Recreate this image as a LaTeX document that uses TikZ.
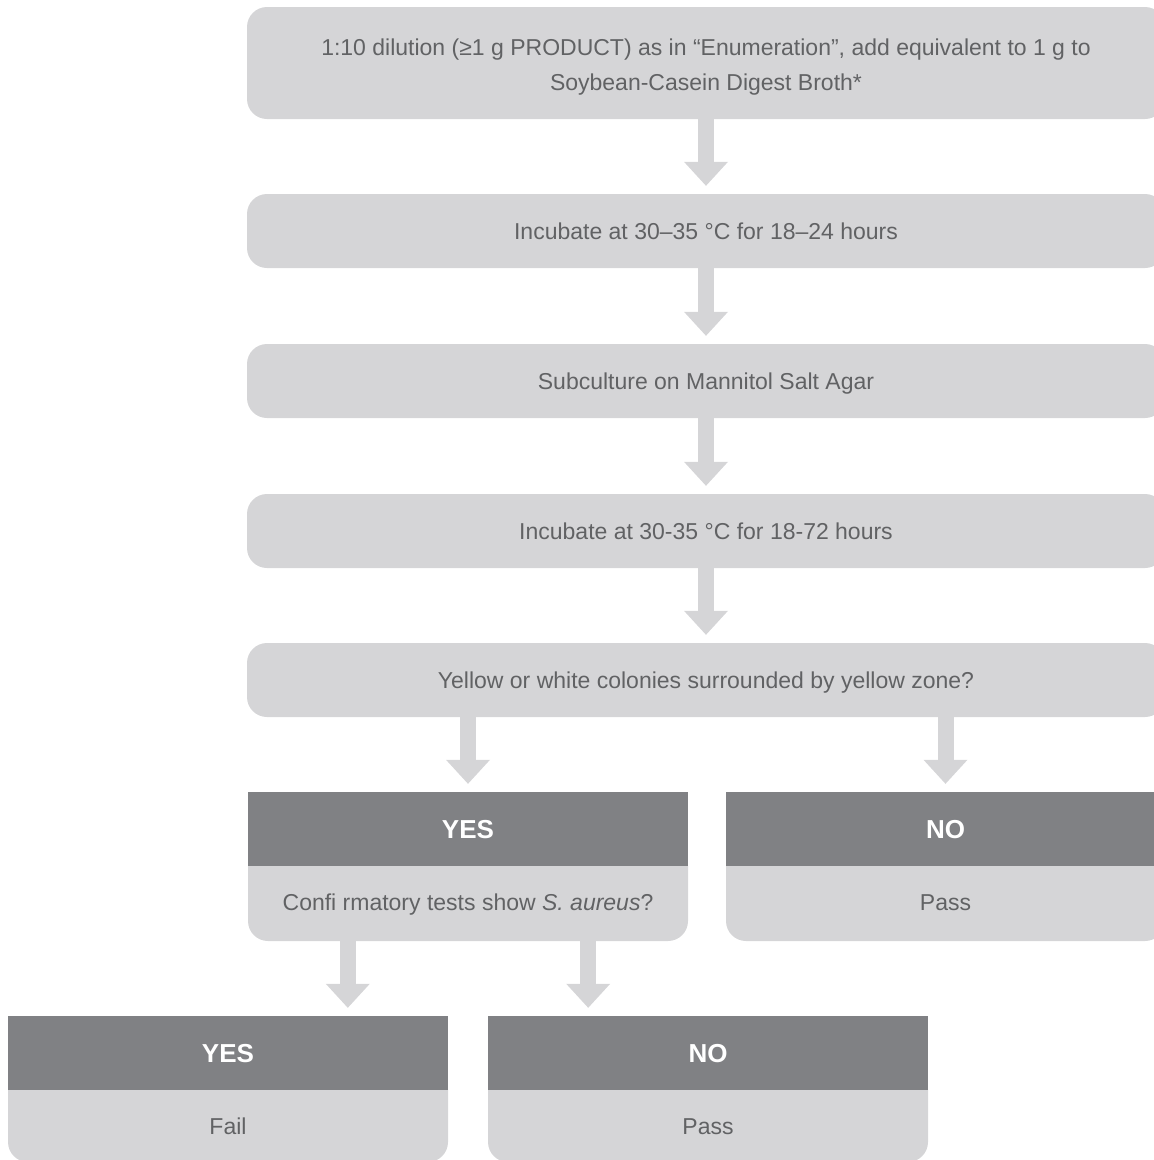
\documentclass[tikz,border=0pt]{standalone}
\usepackage{fontspec}
\setmainfont{Liberation Sans}
\usetikzlibrary{arrows.meta}
\definecolor{boxgray}{HTML}{D5D5D7}
\definecolor{headgray}{HTML}{808184}
\definecolor{txtgray}{HTML}{616264}
\definecolor{arrowgray}{HTML}{D5D5D7}
\tikzset{
  stepbox/.style={fill=boxgray, rounded corners=20pt, inner sep=0pt,
    minimum width=918pt, text=txtgray, align=center,
    font=\fontsize{23}{35}\selectfont},
  onel/.style={text height=21.5pt, text depth=5pt},
  headbox/.style={fill=headgray, inner sep=0pt, minimum width=440pt,
    minimum height=74pt, text=white, font=\bfseries\fontsize{26}{30}\selectfont,
    text height=24pt, text depth=5pt},
  bodybox/.style={fill=boxgray, rounded corners=20pt, inner sep=0pt,
    minimum width=440pt, text=txtgray, font=\fontsize{23}{30}\selectfont},
  flow/.style={draw=arrowgray, line width=16pt,
    -{Triangle[width=44pt,length=24pt,line width=0pt]}},
}
\begin{document}
\begin{tikzpicture}[x=1pt,y=-1pt]
\useasboundingbox (0,0) rectangle (1154,1160);
\clip (0,0) rectangle (1154,1160);
% main chain
\node[stepbox, minimum height=112pt] (b1) at (706,63)
  {\rule{0pt}{24pt}1:10 dilution (≥1 g PRODUCT) as in “Enumeration”, add equivalent to 1 g to\\Soybean-Casein Digest Broth*};
\node[stepbox, onel, minimum height=74pt] (b2) at (706,231) {Incubate at 30–35 °C for 18–24 hours};
\node[stepbox, onel, minimum height=74pt] (b3) at (706,381) {Subculture on Mannitol Salt Agar};
\node[stepbox, onel, minimum height=74pt] (b4) at (706,531) {Incubate at 30-35 °C for 18-72 hours};
\node[stepbox, onel, minimum height=74pt] (b5) at (706,680) {Yellow or white colonies surrounded by yellow zone?};
% first YES / NO
\node[bodybox, minimum height=95pt, text height=38.5pt, text depth=5pt] (yb) at (468,893.5)
  {Confi rmatory tests show \textit{S. aureus}?};
\node[headbox] (yh) at (468,829) {YES};
\node[bodybox, minimum width=439pt, minimum height=95pt, text height=38.5pt, text depth=5pt] (nb) at (945.5,893.5) {Pass};
\node[headbox, minimum width=439pt] (nh) at (945.5,829) {NO};
% second YES / NO
\node[bodybox, minimum height=92pt, text height=41.5pt, text depth=5pt] (fyb) at (228,1116) {Fail};
\node[headbox] (fyh) at (228,1053) {YES};
\node[bodybox, minimum height=92pt, text height=41.5pt, text depth=5pt] (fnb) at (708,1116) {Pass};
\node[headbox] (fnh) at (708,1053) {NO};
% arrows
\draw[flow] (b1.south) -- ([yshift=8pt]b2.north);
\draw[flow] (b2.south) -- ([yshift=8pt]b3.north);
\draw[flow] (b3.south) -- ([yshift=8pt]b4.north);
\draw[flow] (b4.south) -- ([yshift=8pt]b5.north);
\draw[flow] (b5.south -| yh.north) -- ([yshift=8pt]yh.north);
\draw[flow] (b5.south -| nh.north) -- ([yshift=8pt]nh.north);
\coordinate (s1) at ([xshift=100pt]yb.south west);
\coordinate (s2) at ([xshift=-100pt]yb.south east);
\draw[flow] (s1) -- ([yshift=8pt]s1 |- fyh.north);
\draw[flow] (s2) -- ([yshift=8pt]s2 |- fnh.north);
\end{tikzpicture}
\end{document}
